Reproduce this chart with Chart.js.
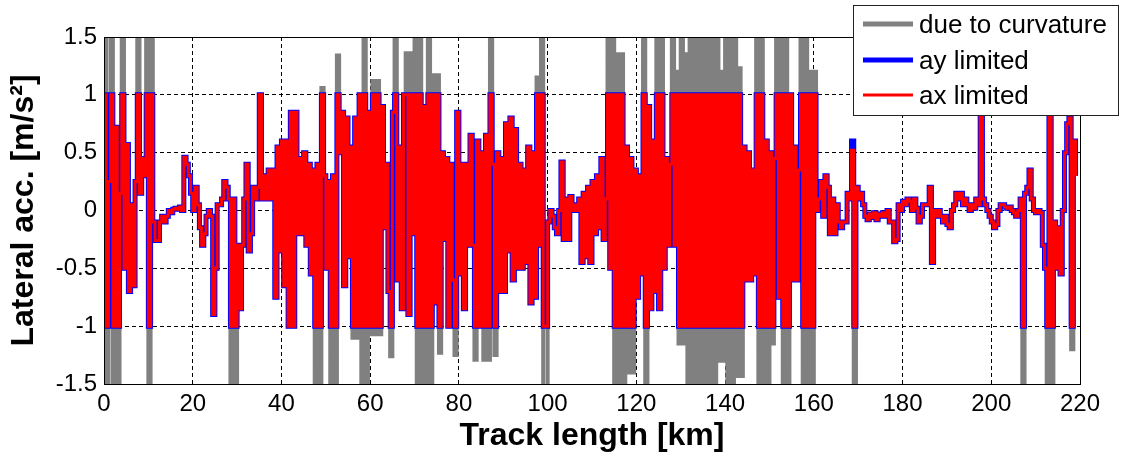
<!DOCTYPE html>
<html>
<head>
<meta charset="utf-8">
<script src="https://cdn.jsdelivr.net/npm/chart.js@4.4.1/dist/chart.umd.min.js"></script>
<style>
html,body{margin:0;padding:0;background:#ffffff;}
#wrap{width:1124px;height:458px;position:relative;}
</style>
</head>
<body>
<div id="wrap"><canvas id="c" width="1124" height="458" style="width:1124px;height:458px"></canvas></div>
<script>
// ---- data (sampled every 0.5 km along the track) ----
const stepKm = 0.5;

const ayLimited = [
  1, -1, 0.25, 1, -1, 0.72, -1, 0.15, 1, -0.5,
  0.57, -0.7, 0.05, -0.65, 0.25, 1, 0.15, 0.45, 0.3, 1,
  -1, 1, -0.1, -0.26, -0.26, -0.1, -0.05, -0.1, -0.05, 0,
  -0.02, 0.01, 0.02, 0.01, 0.03, 0, 0.46, 0.4, 0.3, 0.15,
  0, 0.2, 0.05, -0.15, -0.3, -0.2, -0.05, 0, -0.05, -0.9,
  -0.5, 0.05, 0.05, 0.1, 0.25, 0.2, 0.1, -1, 0.1, -1,
  -0.3, -0.85, -0.3, 0.1, 0.4, -0.35, -0.2, 0.2, 0.1, 0.2,
  1, 0.1, 0.3, 0.1, 0.35, 0.1, 0.35, -0.75, 0.55, -0.35,
  0.6, -0.65, 0.6, -1, 0.85, -1, 0.85, -0.2, 0.45, -0.2,
  0.5, -0.3, 0.4, -0.55, 0.35, -1, 0.4, -1, 1, 0.3,
  -0.5, 0.25, -1, 0.3, -1, 1, 0.5, 0.85, -0.65, 0.8,
  -0.4, 0.55, -1, 0.8, -1, 1, -1, 1, -1, 0.85,
  -1, 1, -1, 1, -1, 0.9, -0.15, 0.4, -0.7, -1,
  0.85, 1, -0.6, 0.55, -0.85, 1, 1, -0.9, 1, -0.2,
  1, -1, 1, -1, 0.9, -1, 1, -1, 1, -0.8,
  1, -1, 0.5, -0.25, 0.45, -1, 0.4, -0.6, -1, 0.85,
  -0.55, 0.4, -0.85, 0.4, -0.3, 0.65, -0.3, -1, 0.6, -1,
  0.5, -1, 0.65, -1, 1, 0.4, -1, 0.5, -0.7, 0.45,
  -0.7, 0.75, -0.35, 0.8, -0.6, 0.7, -0.5, 0.4, -0.5, 0.35,
  -0.45, 0.55, -0.8, 0.5, -0.75, 1, -0.3, 1, -1, -1,
  -0.1, 0, -0.05, -0.15, -0.2, 0, 0.42, -0.25, 0.1, -0.25,
  0.12, 0, 0.05, 0, 0.1, -0.45, 0.15, -0.4, 0.2, -0.45,
  0.25, -0.2, 0.3, -0.15, 0.45, -0.25, 0.1, 1, -0.5, 1,
  -1, 1, -1, 1, -1, 0.55, -1, 0.45, -1, 0.35,
  -0.75, 0.3, -0.55, 1, -1, 0.9, -0.85, 0.6, -0.7, 1,
  -0.85, 1, -0.5, 0.45, -0.3, 0.4, 1, -0.3, 1, -1,
  1, -1, 1, -1, 1, -1, 1, -1, 1, -1,
  1, -1, 1, -1, 1, -1, 1, -1, 1, -1,
  1, -1, 1, -1, 1, -1, 1, -1, 0.55, -0.6,
  0.5, -0.6, 0.35, -0.55, 1, -1, 1, -1, 0.6, -1,
  0.5, -1, 0.45, 1, -0.75, 1, -1, 1, -1, 1,
  -0.6, 0.55, -0.6, 0.35, 1, -1, 1, -1, 1, -1,
  1, 0, 0.1, 0.25, -0.05, 0.3, 0.2, -0.2, 0.1, -0.2,
  0.05, -0.1, -0.15, -0.1, -0.1, 0.15, 0.1, 0.6, -1, 0.2,
  0.1, 0.15, 0.05, -0.05, -0.08, -0.03, -0.06, -0.02, -0.08, -0.03,
  -0.05, -0.02, -0.05, 0, -0.1, -0.1, -0.27, -0.25, 0.05, 0,
  0.08, 0.05, 0.1, 0.08, 0, 0.1, 0.02, -0.1, -0.05, 0.05,
  0.05, 0.05, 0.2, -0.45, 0, -0.05, 0, -0.05, -0.1, -0.05,
  -0.12, -0.15, 0, 0.05, 0.15, 0.1, 0.15, 0.05, 0.1, 0.05,
  0, 0.05, 0.02, 0.1, 0.05, 1, 0.1, 0.05, 0, -0.05,
  -0.1, -0.15, -0.12, 0, 0.05, 0.05, 0.03, 0.02, 0.03, 0,
  -0.02, -0.05, 0, 0.1, -1, 0.15, 0.2, 0.35, 0.1, 0,
  -0.02, 0, -0.02, -0.3, -0.5, -1, 1, -1, -0.1, -0.5,
  -0.15, -0.55, 0, 0.5, 0.75, 0.8, -1, 0.6, 0.3
];

// unlimited curvature demand where it exceeds the +/-1 limit: [km, value]
const curvatureBeyondLimit = [
  [0,1.6],[0.5,-1.6],[1.5,1.6],[2,-1.6],[3,-1.6],[4,1.6],[7.5,1.6],[9.5,1.6],[10,-1.6],[10.5,1.6],
  [28.5,-1.6],[29.5,-1.6],
  [47.5,-1.6],[48.5,-1.6],[49,1.06],[51,-1.6],[52,-1.6],[52.5,1.34],[56,-1.1],[57,-1.1],[58,-1.6],[58.5,1.6],[59,-1.6],
  [60,-1.07],[60.5,1.12],[61,-1.07],[61.5,1.12],[62,-1.07],[64.5,-1.26],[65.5,1.6],[68,1.36],[69,1.36],
  [70,1.6],[70.5,-1.6],[71,1.6],[71.5,-1.6],[72.5,-1.6],[73,1.6],[73.5,-1.6],[74,1.17],[75,1.17],[75.5,-1.23],[79,-1.25],
  [83.5,-1.29],[85.5,-1.29],[86.5,-1.29],[87,1.6],[88,-1.25],[97.5,1.15],[98.5,1.6],[99,-1.6],[99.5,-1.6],
  [113.5,1.6],[114.5,1.6],[115,-1.6],[115.5,1.35],[116,-1.6],[116.5,1.35],[117,-1.6],[118,-1.4],[119,-1.4],
  [121.5,1.6],[122,-1.6],[124.5,1.6],[125.5,1.6],
  [128,1.6],[129,1.2],[129.5,-1.15],[130,1.6],[130.5,-1.15],[131,1.35],[131.5,-1.6],[132,1.6],[132.5,-1.6],
  [133,1.6],[133.5,-1.6],[134,1.6],[134.5,-1.6],[135,1.6],[135.5,-1.6],[136,1.6],[136.5,-1.6],[137,1.6],[137.5,-1.6],
  [138,1.6],[138.5,-1.3],[139,1.2],[139.5,-1.3],[140,1.6],[140.5,-1.6],[141,1.6],[141.5,-1.6],[142,1.6],[142.5,-1.43],
  [143,1.23],[143.5,-1.43],
  [147,1.6],[147.5,-1.6],[148,1.6],[148.5,-1.6],[149.5,-1.6],[150.5,-1.15],[151.5,1.6],[152.5,1.6],[153,-1.6],
  [153.5,1.6],[154,-1.6],[157,1.6],[157.5,-1.6],[158,1.6],[158.5,-1.6],[159,1.2],[159.5,-1.6],[160,1.2],
  [169,-1.6],[207,-1.6],[212.5,-1.6],[213.5,-1.6],[218,-1.2]
];

// places where the ax-limited profile sits below the ay-limited one: [km, value]
const axBelowAy = [[168.5, 0.52]];

const seriesNames = ['due to curvature', 'ay limited', 'ax limited'];
const seriesColors = ['#808080', '#0000ff', '#ff0000'];
const xTickValues = [0, 20, 40, 60, 80, 100, 120, 140, 160, 180, 200, 220];
const yTickValues = [-1.5, -1, -0.5, 0, 0.5, 1, 1.5];
const yTickLabels = ['-1.5', '-1', '-0.5', '0', '0.5', '1', '1.5'];

// ---- build series ----
const curvature = ayLimited.slice();
curvatureBeyondLimit.forEach(([km, v]) => { curvature[Math.round(km / stepKm)] = v; });
const axLimited = ayLimited.slice();
axBelowAy.forEach(([km, v]) => { axLimited[Math.round(km / stepKm)] = v; });
const toPoints = arr => arr.map((v, i) => ({ x: i * stepKm, y: v }));

const FONT = '"Liberation Sans", Arial, sans-serif';

const framePlugin = {
  id: 'frame',
  afterDatasetsDraw(chart) {
    const { ctx, chartArea: a } = chart;
    ctx.save();
    ctx.strokeStyle = '#000';
    ctx.lineWidth = 1;
    ctx.setLineDash([]);
    ctx.strokeRect(Math.round(a.left) + 0.5, Math.round(a.top) + 0.5,
                   Math.round(a.right - a.left), Math.round(a.bottom - a.top));
    ctx.restore();
  }
};

const legendPlugin = {
  id: 'boxLegend',
  afterDraw(chart) {
    const ctx = chart.ctx;
    const box = { x: 853, y: 5, w: 266, h: 111 };
    ctx.save();
    ctx.fillStyle = '#ffffff';
    ctx.fillRect(box.x, box.y, box.w, box.h);
    ctx.strokeStyle = '#222';
    ctx.lineWidth = 1;
    ctx.strokeRect(box.x + 0.5, box.y + 0.5, box.w - 1, box.h - 1);
    const widths = [5, 5, 3];
    const rows = [24, 60, 95];
    ctx.font = '26px ' + FONT;
    ctx.textBaseline = 'alphabetic';
    ctx.textAlign = 'left';
    seriesNames.forEach((name, i) => {
      ctx.beginPath();
      ctx.strokeStyle = seriesColors[i];
      ctx.lineWidth = widths[i];
      ctx.moveTo(863, rows[i]);
      ctx.lineTo(913, rows[i]);
      ctx.stroke();
      ctx.fillStyle = '#000';
      ctx.fillText(name, 919, rows[i] + 9);
    });
    ctx.restore();
  }
};

const gridDash = [4, 3];

new Chart(document.getElementById('c'), {
  type: 'line',
  data: {
    datasets: [
      { label: seriesNames[0], data: toPoints(curvature), borderColor: seriesColors[0], borderWidth: 4, order: 3 },
      { label: seriesNames[1], data: toPoints(ayLimited), borderColor: seriesColors[1], borderWidth: 5, order: 2 },
      { label: seriesNames[2], data: toPoints(axLimited), borderColor: seriesColors[2], borderWidth: 3, order: 1 }
    ]
  },
  options: {
    responsive: false,
    animation: false,
    devicePixelRatio: 1,
    parsing: true,
    datasets: {
      line: { stepped: true, pointRadius: 0, pointHoverRadius: 0, tension: 0, fill: false, clip: 0 }
    },
    layout: { padding: { left: 0, top: 37, right: 44, bottom: 0 } },
    plugins: { legend: { display: false }, tooltip: { enabled: false } },
    events: [],
    scales: {
      x: {
        type: 'linear',
        min: 0, max: 220,
        afterBuildTicks: s => { s.ticks = xTickValues.map(v => ({ value: v })); },
        afterFit: s => { s.height = 74; },
        grid: { color: '#000', lineWidth: 1, drawTicks: false },
        border: { display: false, dash: gridDash },
        ticks: { color: '#000', font: { family: FONT, size: 24 }, padding: 6, maxRotation: 0, autoSkip: false,
                 callback: v => String(v) },
        title: { display: true, text: 'Track length [km]', color: '#000',
                 font: { family: FONT, size: 32, weight: 'bold' }, padding: { top: 0, bottom: 3 } }
      },
      y: {
        type: 'linear',
        min: -1.5, max: 1.5,
        afterBuildTicks: s => { s.ticks = yTickValues.map(v => ({ value: v })); },
        afterFit: s => { s.width = 104; },
        grid: { color: '#000', lineWidth: 1, drawTicks: false },
        border: { display: false, dash: gridDash },
        ticks: { color: '#000', font: { family: FONT, size: 24 }, padding: 7, autoSkip: false,
                 callback: (v) => yTickLabels[yTickValues.indexOf(v)] },
        title: { display: true, text: 'Lateral acc. [m/s²]', color: '#000',
                 font: { family: FONT, size: 32, weight: 'bold' }, padding: { top: 5, bottom: 0 } }
      }
    }
  },
  plugins: [framePlugin, legendPlugin]
});
</script>
</body>
</html>
